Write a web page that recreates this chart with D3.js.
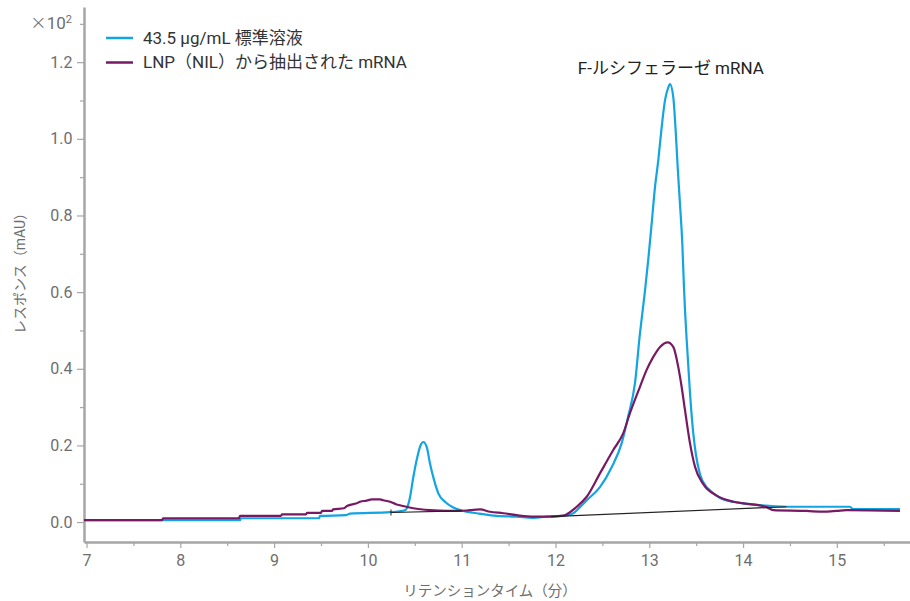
<!DOCTYPE html>
<html>
<head>
<meta charset="utf-8">
<script src="https://cdn.jsdelivr.net/npm/d3@7"></script>
<style>
    body { margin: 0; background: #fff; }
    text { font-family: Roboto, "Noto Sans CJK JP", sans-serif; }
</style>
</head>
<body>
<div id="chart"></div>
<script>
const SeriesNames = ["43.5 μg/mL 標準溶液", "LNP（NIL）から抽出された mRNA"];
const SeriesColors = ["#12a4e3", "#781a63"];

// 43.5 ug/mL standard
const StandardTime = [6.973, 8.636, 8.647, 9.479, 9.489, 9.767, 9.809, 10.236, 10.396, 10.417,
    10.449, 10.484, 10.527, 10.563, 10.591, 10.627, 10.662, 10.705, 10.751, 10.822,
    10.910, 11.017, 11.160, 11.373, 11.586, 11.760, 11.906, 12.083, 12.190, 12.261,
    12.333, 12.474, 12.599, 12.706, 12.773, 12.848, 12.901, 12.930, 12.955, 12.989,
    13.026, 13.061, 13.096, 13.132, 13.168, 13.200, 13.221, 13.256, 13.281, 13.303,
    13.327, 13.352, 13.370, 13.381, 13.399, 13.434, 13.469, 13.498, 13.541, 13.612,
    13.647, 13.754, 13.967, 14.180, 14.465, 15.140, 15.172, 15.673];
const StandardResp = [0.005, 0.005, 0.010, 0.010, 0.016, 0.018, 0.022, 0.026, 0.031, 0.037,
    0.065, 0.117, 0.170, 0.201, 0.209, 0.196, 0.153, 0.110, 0.075, 0.053,
    0.038, 0.029, 0.023, 0.016, 0.014, 0.011, 0.014, 0.016, 0.023, 0.039,
    0.057, 0.091, 0.143, 0.206, 0.274, 0.363, 0.493, 0.553, 0.605, 0.684,
    0.780, 0.874, 0.944, 1.030, 1.101, 1.132, 1.143, 1.109, 1.023, 0.926,
    0.832, 0.728, 0.613, 0.553, 0.475, 0.337, 0.232, 0.175, 0.125, 0.091,
    0.083, 0.063, 0.050, 0.044, 0.040, 0.040, 0.034, 0.034];

// mRNA extracted from LNP (NIL)
const LnpTime = [6.973, 7.805, 7.816, 8.626, 8.636, 9.073, 9.084, 9.340, 9.351, 9.500,
    9.510, 9.617, 9.628, 9.745, 9.777, 9.881, 9.916, 9.987, 10.040, 10.129,
    10.164, 10.236, 10.307, 10.342, 10.484, 10.662, 10.840, 10.982, 11.088, 11.195,
    11.302, 11.444, 11.586, 11.763, 11.906, 12.083, 12.226, 12.333, 12.474, 12.616,
    12.723, 12.794, 12.901, 12.972, 13.043, 13.115, 13.197, 13.256, 13.309, 13.345,
    13.381, 13.434, 13.488, 13.576, 13.719, 13.896, 14.073, 14.252, 14.322, 14.678,
    14.855, 14.998, 15.104, 15.673];
const LnpResp = [0.005, 0.005, 0.010, 0.010, 0.016, 0.016, 0.020, 0.020, 0.024, 0.024,
    0.029, 0.029, 0.033, 0.036, 0.042, 0.049, 0.053, 0.056, 0.059, 0.059,
    0.057, 0.053, 0.046, 0.044, 0.036, 0.031, 0.029, 0.029, 0.031, 0.033,
    0.027, 0.023, 0.018, 0.014, 0.014, 0.017, 0.040, 0.066, 0.127, 0.188,
    0.232, 0.284, 0.353, 0.397, 0.431, 0.457, 0.469, 0.457, 0.405, 0.353,
    0.292, 0.206, 0.144, 0.099, 0.069, 0.053, 0.047, 0.039, 0.031, 0.029,
    0.027, 0.029, 0.031, 0.029];

// integration baselines
const BaselineTime = [[10.246, 11.0], [11.952, 14.463]];
const BaselineResp = [[0.025, 0.029], [0.014, 0.040]];

const XTicks = [7, 8, 9, 10, 11, 12, 13, 14, 15];
const XMinorTicks = [7.5, 8.5, 9.5, 10.5, 11.5, 12.5, 13.5, 14.5, 15.5];
const YTicks = [0.0, 0.2, 0.4, 0.6, 0.8, 1.0, 1.2];
const YMinorTicks = [0.1, 0.3, 0.5, 0.7, 0.9, 1.1, 1.3];
const XTitle = "リテンションタイム（分）";
const YTitle = "レスポンス（mAU）";
const PeakLabel = "F-ルシフェラーゼ mRNA";
const PeakLabelTime = 13.23;
const PeakLabelResp = 1.169;

function createChart() {
    let width = 910;
    let height = 601;
    let axisColor = "#a6a6a6";
    let labelColor = "#6e6e6e";

    let x = d3.scaleLinear().domain([6.973, 15.78]).range([84, 910]);
    let y = d3.scaleLinear().domain([-0.052, 1.344]).range([542, 7]);

    let svg = d3.select("#chart").append("svg")
        .attr("width", width)
        .attr("height", height);

    // axes
    let xAxis = svg.append("g")
        .attr("transform", `translate(0,${y.range()[0]})`)
        .call(d3.axisBottom(x).tickValues(XTicks).tickFormat(d3.format("d")).tickSize(6).tickSizeOuter(0));
    svg.append("g")
        .attr("transform", `translate(0,${y.range()[0]})`)
        .call(d3.axisBottom(x).tickValues(XMinorTicks).tickFormat("").tickSize(4).tickSizeOuter(0))
        .select(".domain").remove();

    let yAxis = svg.append("g")
        .attr("transform", `translate(${x.range()[0]},0)`)
        .call(d3.axisLeft(y).tickValues(YTicks).tickFormat(d3.format(".1f")).tickSize(7).tickSizeOuter(0));
    svg.append("g")
        .attr("transform", `translate(${x.range()[0]},0)`)
        .call(d3.axisLeft(y).tickValues(YMinorTicks).tickFormat("").tickSize(4).tickSizeOuter(0))
        .select(".domain").remove();

    svg.selectAll(".domain").attr("stroke", axisColor).attr("stroke-width", 2.5);
    svg.selectAll(".tick line").attr("stroke", axisColor).attr("stroke-width", 1.2);
    xAxis.selectAll(".tick text")
        .attr("fill", labelColor)
        .attr("font-size", 16)
        .attr("dy", "0.95em");
    yAxis.selectAll(".tick text")
        .attr("fill", labelColor)
        .attr("font-size", 16)
        .attr("dx", "-0.1em");

    // multiplier label at the top minor tick
    let mult = svg.append("text")
        .attr("x", 72)
        .attr("y", y(1.3))
        .attr("dy", "0.32em")
        .attr("text-anchor", "end")
        .attr("fill", labelColor)
        .attr("font-size", 17);
    mult.append("tspan")
        .attr("font-family", "'DejaVu Sans', sans-serif")
        .attr("font-weight", 300)
        .attr("font-size", 20)
        .text("×");
    mult.append("tspan").text("10");
    mult.append("tspan")
        .attr("font-size", 11)
        .attr("dy", "-0.55em")
        .text("2");

    svg.append("text")
        .attr("x", 490)
        .attr("y", 596)
        .attr("text-anchor", "middle")
        .attr("fill", labelColor)
        .attr("font-size", 14.5)
        .text(XTitle);

    svg.append("text")
        .attr("transform", "translate(25,270) rotate(-90)")
        .attr("text-anchor", "middle")
        .attr("fill", labelColor)
        .attr("font-size", 14)
        .text(YTitle);

    // traces
    let line = d3.line()
        .x(d => x(d[0]))
        .y(d => y(d[1]))
        .curve(d3.curveMonotoneX);

    let traces = [
        d3.zip(StandardTime, StandardResp),
        d3.zip(LnpTime, LnpResp),
    ];

    svg.append("g").selectAll("path")
        .data(traces)
        .enter().append("path")
            .attr("d", line)
            .attr("fill", "none")
            .attr("stroke", (d, i) => SeriesColors[i])
            .attr("stroke-width", 2.2)
            .attr("stroke-linejoin", "round");

    let baselines = BaselineTime.map((t, i) => d3.zip(t, BaselineResp[i]));
    svg.append("g").selectAll("path")
        .data(baselines)
        .enter().append("path")
            .attr("d", d3.line().x(d => x(d[0])).y(d => y(d[1])))
            .attr("fill", "none")
            .attr("stroke", "#222")
            .attr("stroke-width", 1.2);

    // little start marker on the first baseline
    svg.append("line")
        .attr("x1", x(BaselineTime[0][0])).attr("x2", x(BaselineTime[0][0]))
        .attr("y1", y(BaselineResp[0][0]) - 3).attr("y2", y(BaselineResp[0][0]) + 3)
        .attr("stroke", "#222")
        .attr("stroke-width", 1);

    svg.append("text")
        .attr("x", x(PeakLabelTime))
        .attr("y", y(PeakLabelResp))
        .attr("text-anchor", "middle")
        .attr("fill", "#222")
        .attr("font-size", 17)
        .text(PeakLabel);

    // legend
    let legend = svg.append("g").attr("transform", "translate(106,38)");
    let items = legend.selectAll("g")
        .data(SeriesNames)
        .enter().append("g")
            .attr("transform", (d, i) => `translate(0,${i * 24.5})`);
    items.append("line")
        .attr("x1", 0).attr("x2", 27)
        .attr("stroke", (d, i) => SeriesColors[i])
        .attr("stroke-width", 2.5);
    items.append("text")
        .attr("x", 37)
        .attr("dy", "0.35em")
        .attr("fill", "#333")
        .attr("font-size", 17)
        .text(d => d);
}

createChart();
</script>
</body>
</html>
